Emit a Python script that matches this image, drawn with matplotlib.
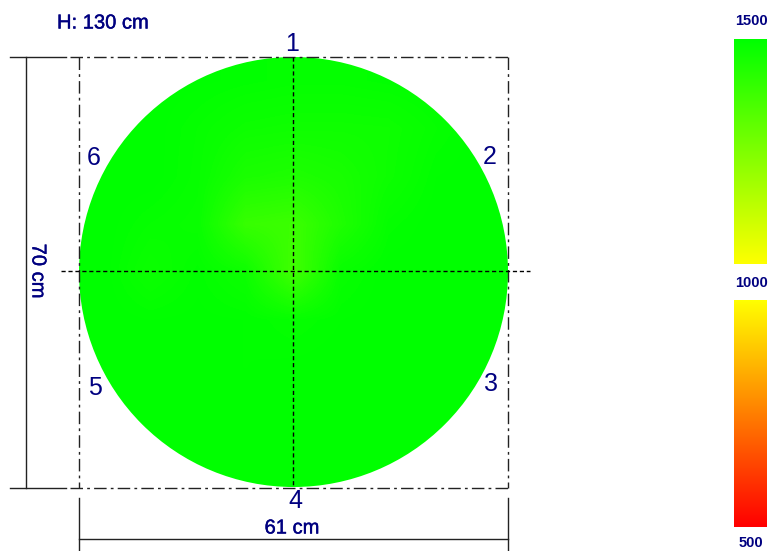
import numpy as np
import matplotlib.pyplot as plt
import matplotlib.patheffects as pe
from matplotlib.colors import LinearSegmentedColormap
from matplotlib.patches import Ellipse

plt.rcParams["font.family"] = ["Liberation Sans", "DejaVu Sans"]

# ===============================
# Values
# ===============================
# velocity on a 9x9 grid over the section box, top row first
velocity = [
    [1500, 1500, 1498, 1494, 1490, 1490, 1494, 1498, 1500],
    [1500, 1500, 1488, 1474, 1470, 1470, 1472, 1488, 1500],
    [1500, 1500, 1486, 1448, 1440, 1452, 1474, 1496, 1500],
    [1500, 1488, 1482, 1392, 1382, 1440, 1490, 1500, 1500],
    [1500, 1476, 1494, 1474, 1372, 1484, 1500, 1500, 1500],
    [1500, 1496, 1498, 1496, 1488, 1496, 1500, 1500, 1500],
    [1500, 1500, 1498, 1496, 1498, 1500, 1500, 1500, 1500],
    [1500, 1500, 1500, 1500, 1500, 1500, 1500, 1500, 1500],
    [1500, 1500, 1500, 1500, 1500, 1500, 1500, 1500, 1500],
]
sensor_labels = ["1", "2", "3", "4", "5", "6"]
sensor_x = [292, 490, 491, 295, 95, 94]
sensor_y = [44, 157, 384, 501, 388, 158]
scale_values = [1500, 1000, 500]
scale_label_y = [21, 283, 543]
height_label = "H: 130 cm"
depth_label = "70 cm"
width_label = "61 cm"

navy = "#000080"
line_col = "#222222"
dashdot = (0, (9, 3, 2, 3))
velocity_cmap = LinearSegmentedColormap.from_list(
    "velocity", [(1, 0, 0), (1, 1, 0), (0, 1, 0)]
)
semibold = [pe.withStroke(linewidth=0.3, foreground=navy)]

# ===============================
# Figure, one axes in pixel units
# ===============================
fig = plt.figure(figsize=(7.68, 5.51), dpi=100)
ax = fig.add_axes([0, 0, 1, 1])
ax.axis("off")

# ===============================
# Section map clipped to the circle
# ===============================
img = ax.imshow(
    velocity,
    cmap=velocity_cmap,
    vmin=500,
    vmax=1500,
    extent=(79, 508, 487, 57),
    interpolation="bilinear",
    aspect="auto",
)
outline = Ellipse((293.5, 272), 429, 430, transform=ax.transData, fc="none", ec="none")
ax.add_patch(outline)
img.set_clip_path(outline)

# ===============================
# Box and dimension lines
# ===============================
ax.plot([10, 66], [57, 57], color=line_col, lw=1)
ax.plot([10, 66], [488, 488], color=line_col, lw=1)
ax.plot([26, 26], [57, 488], color=line_col, lw=1)
ax.plot([70, 508], [57, 57], color=line_col, lw=1, ls=dashdot)
ax.plot([70, 508], [488, 488], color=line_col, lw=1, ls=dashdot)
ax.plot([79, 79], [57, 488], color=line_col, lw=1, ls=dashdot)
ax.plot([508, 508], [57, 488], color=line_col, lw=1, ls=dashdot)
ax.plot([79, 79], [498, 551], color=line_col, lw=1)
ax.plot([508, 508], [498, 551], color=line_col, lw=1)
ax.plot([79, 508], [539, 539], color=line_col, lw=1)

# centre cross
ax.plot([293, 293], [57, 488], color="black", lw=1, ls=(0, (3, 2)))
ax.plot([61, 530], [271, 271], color="black", lw=1, ls=(0, (3, 2)))

# ===============================
# Text
# ===============================
for lab, x, y in zip(sensor_labels, sensor_x, sensor_y):
    ax.text(x, y, lab, color=navy, fontsize=18, ha="center", va="center")

ax.text(57, 23, height_label, color=navy, fontsize=14.5, va="center", path_effects=semibold)
ax.text(292, 528, width_label, color=navy, fontsize=14.5, ha="center", va="center",
        path_effects=semibold)
ax.text(38, 271, depth_label, color=navy, fontsize=14.5, rotation=-90,
        ha="center", va="center", path_effects=semibold)

# ===============================
# Colour scale
# ===============================
ax.imshow(np.linspace(scale_values[0], scale_values[1], 128).reshape(-1, 1),
          cmap=velocity_cmap, vmin=500, vmax=1500,
          extent=(734, 767, 264, 39), aspect="auto")
ax.imshow(np.linspace(scale_values[1], scale_values[2], 128).reshape(-1, 1),
          cmap=velocity_cmap, vmin=500, vmax=1500,
          extent=(734, 767, 527, 300), aspect="auto")

for val, y in zip(scale_values, scale_label_y):
    ax.text(751, y, str(val), color=navy, fontsize=10.5, fontweight="bold",
            ha="center", va="center")

ax.set_xlim(0, 768)
ax.set_ylim(551, 0)

fig.savefig("out.png", dpi=100)
